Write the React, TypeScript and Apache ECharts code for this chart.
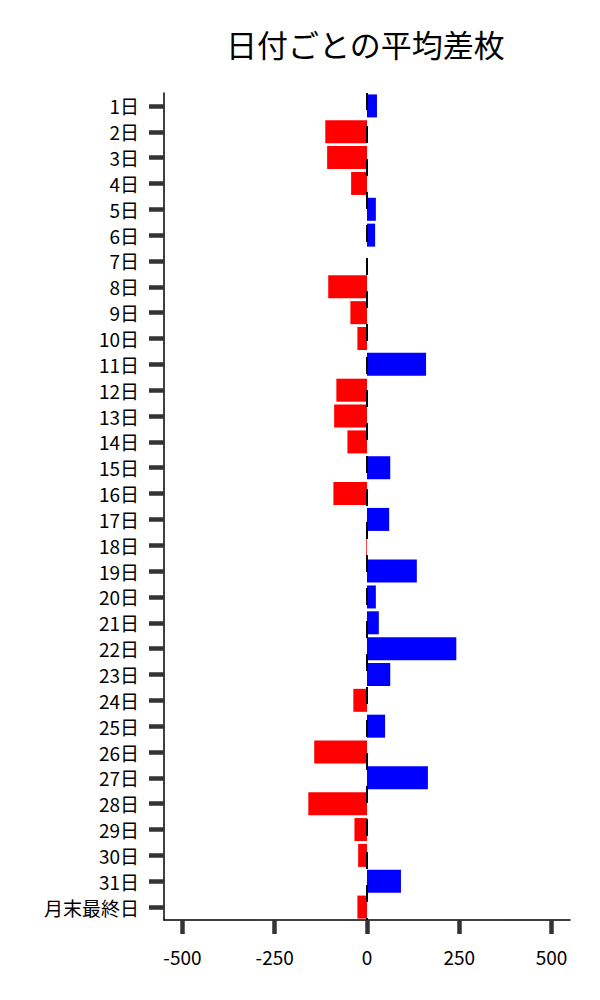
import React, { useEffect, useRef } from "react";
import * as echarts from "echarts";

const categories = [
  "1日", "2日", "3日", "4日", "5日", "6日", "7日", "8日", "9日", "10日",
  "11日", "12日", "13日", "14日", "15日", "16日", "17日", "18日", "19日", "20日",
  "21日", "22日", "23日", "24日", "25日", "26日", "27日", "28日", "29日", "30日",
  "31日", "月末最終日",
];
const values = [
  27, -113, -108, -43, 24, 22, 0, -105, -45, -26,
  160, -83, -89, -53, 63, -91, 60, -2, 135, 24,
  32, 242, 63, -37, 49, -143, 165, -159, -34, -24,
  92, -26,
];
const xTicks = [-500, -250, 0, 250, 500];
const titleText = "日付ごとの平均差枚";

export default function App() {
  const ref = useRef<HTMLDivElement>(null);
  useEffect(() => {
    document.body.style.margin = "0";
    if (!ref.current) return;
    const chart = echarts.init(ref.current, undefined, { renderer: "svg" });
    const font = "'Noto Sans CJK JP', 'Noto Sans', sans-serif";
    chart.setOption({
      animation: false,
      textStyle: { fontFamily: font },
      title: {
        text: titleText,
        left: 221,
        top: 23,
        textStyle: { fontSize: 31, fontWeight: "normal", color: "#000", fontFamily: font },
      },
      grid: { left: 164, right: 30, top: 93, bottom: 80, containLabel: false },
      xAxis: {
        type: "value",
        min: -550,
        max: 550,
        splitLine: { show: false },
        axisLine: { show: true, onZero: false, lineStyle: { color: "#000", width: 1.5 } },
        axisTick: {
          show: true,
          length: 14,
          customValues: xTicks,
          lineStyle: { color: "#333", width: 4.5 },
        },
        axisLabel: {
          customValues: xTicks,
          margin: 26,
          fontSize: 19,
          lineHeight: 20,
          color: "#000",
          fontFamily: font,
        },
      },
      yAxis: {
        type: "category",
        data: categories,
        inverse: true,
        axisLine: { show: true, onZero: false, lineStyle: { color: "#000", width: 1.5 } },
        axisTick: {
          show: true,
          alignWithLabel: true,
          length: 15,
          lineStyle: { color: "#333", width: 4.5 },
        },
        axisLabel: {
          margin: 25,
          fontSize: 19,
          lineHeight: 19,
          color: "#000",
          fontFamily: font,
          interval: 0,
        },
        splitLine: { show: false },
      },
      series: [
        {
          type: "bar",
          data: values.map((v) => ({
            value: v,
            itemStyle: { color: v >= 0 ? "#0000ff" : "#ff0000" },
          })),
          barCategoryGap: "11%",
          markLine: {
            silent: true,
            symbol: "none",
            label: { show: false },
            lineStyle: { color: "#000", type: [17, 16], dashOffset: 0, width: 2 },
            data: [{ xAxis: 0 }],
          },
        },
      ],
    });
    return () => chart.dispose();
  }, []);
  return <div ref={ref} style={{ width: 600, height: 1000 }} />;
}
